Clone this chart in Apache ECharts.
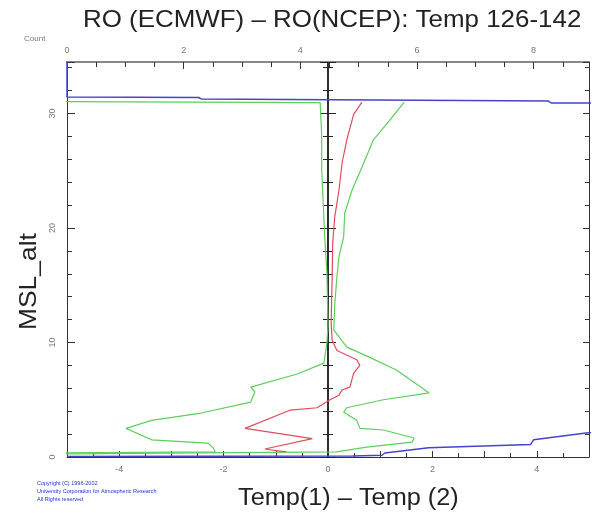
<!DOCTYPE html>
<html>
<head>
<meta charset="utf-8">
<script src="https://cdn.jsdelivr.net/npm/echarts@6/dist/echarts.min.js"></script>
<style>
  html, body { margin: 0; padding: 0; background: #fff; }
  #chart { width: 592px; height: 513px; }
</style>
</head>
<body>
<div id="chart"></div>
<script>
// mean difference profile (red), altitude in km
const meanAlt = [31.0, 29.9, 27.7, 25.7, 23.3, 21.0, 18.7, 15.7, 11.7, 10.2, 9.3, 8.5, 8.0, 7.3, 6.1, 5.85, 5.4, 5.0, 4.3, 4.1, 2.5, 1.6, 0.7, 0.45];
const meanVal = [0.65, 0.49, 0.36, 0.27, 0.21, 0.13, 0.09, 0.08, 0.06, 0.08, 0.17, 0.55, 0.61, 0.49, 0.42, 0.27, 0.21, 0.04, -0.21, -0.72, -1.59, -0.3, -1.21, -0.8];

// mean + std (green, right side)
const hiAlt = [31.0, 29.4, 27.7, 25.3, 23.3, 21.3, 19.2, 17.5, 15.7, 13.4, 11.1, 9.6, 8.7, 7.6, 5.6, 5.0, 4.3, 3.9, 3.2, 2.5, 2.36, 1.66, 1.3, 0.87, 0.44, 0.25];
const hiVal = [1.46, 1.18, 0.87, 0.65, 0.46, 0.32, 0.30, 0.21, 0.17, 0.13, 0.11, 0.36, 0.8, 1.31, 1.94, 1.06, 0.36, 0.30, 0.55, 0.61, 1.06, 1.65, 1.61, 0.74, 0.17, -6];

// mean - std (green, left side)
const loAlt = [31.05, 30.95, 28.0, 25.0, 19.0, 16.0, 11.5, 10.0, 8.2, 7.25, 6.1, 5.7, 4.8, 3.84, 3.2, 2.5, 1.5, 1.22, 0.8, 0.44, 0.35];
const loVal = [-6, -0.15, -0.12, -0.12, -0.06, -0.02, 0.0, -0.02, -0.08, -0.59, -1.48, -1.40, -1.48, -2.43, -3.38, -3.87, -3.38, -2.30, -2.20, -2.16, -6];

// sample count (blue, top axis)
const countAlt = [35, 31.45, 31.4, 31.27, 31.1, 30.92, 30.9, 2.6, 2.1, 1.5, 1.1, 0.8, 0.35, 0.15, 0.08, 0.05];
const countVal = [0, 0, 2.26, 2.3, 8.25, 8.3, 10, 10, 8.9, 8.0, 7.95, 6.2, 5.45, 5.4, 4.9, 0];

const zip = (xs, ys) => xs.map((x, i) => [x, ys[i]]);

const axisColor = '#333';
const labelStyle = { color: '#777', fontSize: 9, fontFamily: 'Liberation Sans' };

const option = {
  animation: false,
  backgroundColor: '#fff',
  grid: { left: 67, top: 62, width: 528, height: 395 },
  xAxis: [
    {
      type: 'value', position: 'bottom', min: -5, max: 5, interval: 1,
      axisLine: { onZero: false, lineStyle: { color: axisColor } },
      axisTick: { inside: true, length: 6, lineStyle: { color: axisColor } },
      minorTick: { show: true, splitNumber: 2, length: 4, lineStyle: { color: axisColor } },
      splitLine: { show: false },
      axisLabel: Object.assign({ margin: 8, formatter: v => (v % 2 === 0 && v > -5 && v < 5) ? String(v) : '' }, labelStyle)
    },
    {
      type: 'value', position: 'top', min: 0, max: 8.95, interval: 2,
      axisLine: { onZero: false, lineStyle: { color: '#888', width: 2 } },
      axisTick: { inside: true, length: 7, lineStyle: { color: axisColor } },
      minorTick: { show: true, splitNumber: 4, length: 5, lineStyle: { color: axisColor } },
      splitLine: { show: false },
      axisLabel: Object.assign({ margin: 7, showMaxLabel: false }, labelStyle)
    }
  ],
  yAxis: [
    {
      type: 'value', position: 'left', min: 0, max: 34.5, interval: 10,
      axisLine: { onZero: false, lineStyle: { color: axisColor } },
      axisTick: { inside: true, length: 8, lineStyle: { color: axisColor } },
      minorTick: { show: true, splitNumber: 5, length: 5, lineStyle: { color: axisColor } },
      splitLine: { show: false },
      axisLabel: Object.assign({ margin: 10, rotate: 90, showMaxLabel: false }, labelStyle)
    },
    {
      type: 'value', position: 'right', min: 0, max: 34.5, interval: 10,
      axisLine: { onZero: false, lineStyle: { color: axisColor } },
      axisTick: { inside: true, length: 6, lineStyle: { color: axisColor } },
      minorTick: { show: true, splitNumber: 5, length: 4, lineStyle: { color: axisColor } },
      splitLine: { show: false },
      axisLabel: { show: false }
    },
    {
      type: 'value', min: 0, max: 34.5, interval: 10,
      axisLine: { onZero: true, onZeroAxisIndex: 0, lineStyle: { color: '#222', width: 1.5 } },
      axisTick: { inside: true, length: 8, lineStyle: { color: '#222' } },
      minorTick: { show: true, splitNumber: 5, length: 5, lineStyle: { color: '#222' } },
      splitLine: { show: false },
      axisLabel: { show: false }
    },
    {
      type: 'value', min: 0, max: 34.5, interval: 10,
      axisLine: { onZero: true, onZeroAxisIndex: 0, lineStyle: { color: '#222', width: 1.5 } },
      axisTick: { inside: false, length: 8, lineStyle: { color: '#222' } },
      minorTick: { show: true, splitNumber: 5, length: 5, lineStyle: { color: '#222' } },
      splitLine: { show: false },
      axisLabel: { show: false }
    }
  ],
  graphic: [
    { type: 'text', x: 83, y: 8, scaleX: 1.08, style: { text: 'RO (ECMWF) \u2013 RO(NCEP): Temp 126-142', font: '24px "Liberation Sans"', fill: '#222' } },
    { type: 'text', left: 24, top: 35, style: { text: 'Count', font: '8px "Liberation Sans"', fill: '#777' } },
    { type: 'text', x: 238, y: 487, scaleX: 1.1, style: { text: 'Temp(1) \u2013 Temp (2)', font: '23px "Liberation Sans"', fill: '#222' } },
    { type: 'text', x: 17, y: 330, rotation: Math.PI / 2, scaleX: 1.1, style: { text: 'MSL_alt', font: '24px "Liberation Sans"', fill: '#222' } },
    { type: 'text', left: 37, top: 479, style: { text: 'Copyright (C) 1996-2002\nUniversity Corporation for Atmospheric Research\nAll Rights reserved', font: '5.5px "Liberation Sans"', fill: '#2233cc', lineHeight: 8 } }
  ],
  series: [
    {
      type: 'line', xAxisIndex: 1, yAxisIndex: 0, showSymbol: false, clip: true,
      lineStyle: { color: '#4444cc', width: 1.5 }, data: zip(countVal, countAlt)
    },
    {
      type: 'line', xAxisIndex: 0, yAxisIndex: 0, showSymbol: false, clip: true,
      lineStyle: { color: '#5ccf5c', width: 1.2 }, data: zip(hiVal, hiAlt)
    },
    {
      type: 'line', xAxisIndex: 0, yAxisIndex: 0, showSymbol: false, clip: true,
      lineStyle: { color: '#5ccf5c', width: 1.2 }, data: zip(loVal, loAlt)
    },
    {
      type: 'line', xAxisIndex: 0, yAxisIndex: 0, showSymbol: false, clip: true,
      lineStyle: { color: '#e04c5c', width: 1.2 }, data: zip(meanVal, meanAlt)
    }
  ]
};

const myChart = echarts.init(document.getElementById('chart'));
myChart.setOption(option);
</script>
</body>
</html>
